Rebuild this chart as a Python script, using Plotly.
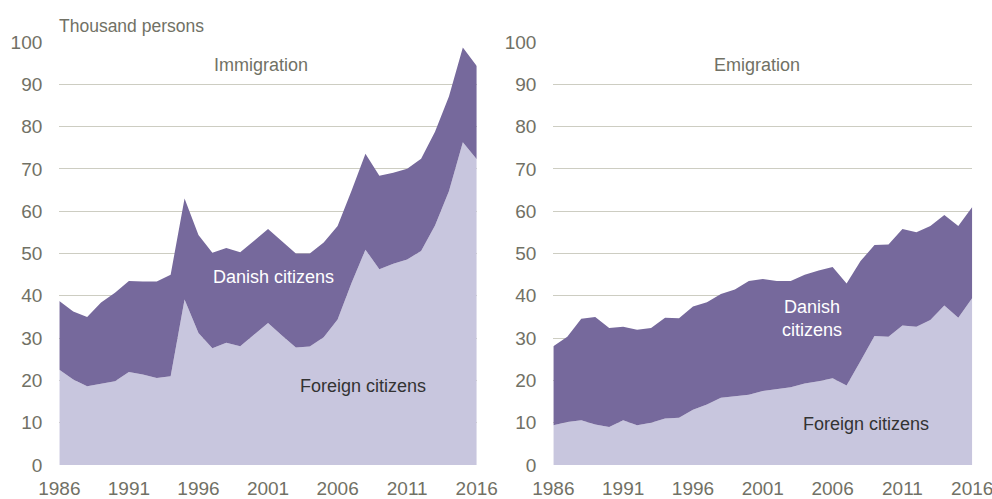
import plotly.graph_objects as go

years = list(range(1986, 2017))

# Immigration, thousand persons
imm_foreign = [22.5, 20.2, 18.6, 19.2, 19.8, 22.0, 21.4, 20.6, 21.0, 39.1,
               31.2, 27.6, 28.9, 28.1, 30.8, 33.6, 30.6, 27.8, 28.0, 30.2,
               34.4, 43.0, 50.9, 46.3, 47.6, 48.6, 50.6, 56.6, 64.7, 76.3, 72.3]
imm_total = [38.8, 36.3, 35.0, 38.4, 40.7, 43.5, 43.4, 43.4, 45.0, 63.0,
             54.4, 50.2, 51.3, 50.3, 53.0, 55.8, 52.9, 50.0, 50.0, 52.6,
             56.5, 64.8, 73.6, 68.4, 69.1, 70.0, 72.4, 78.8, 87.1, 98.7, 94.3]

# Emigration, thousand persons
emi_foreign = [9.4, 10.2, 10.6, 9.6, 9.0, 10.6, 9.4, 10.0, 11.0, 11.2,
               13.1, 14.3, 15.9, 16.3, 16.6, 17.5, 17.9, 18.4, 19.3, 19.8,
               20.5, 18.8, 24.6, 30.5, 30.3, 33.0, 32.7, 34.3, 37.7, 34.8, 39.5]
emi_total = [28.1, 30.3, 34.6, 35.0, 32.4, 32.7, 32.0, 32.4, 34.8, 34.7,
             37.5, 38.5, 40.4, 41.5, 43.5, 44.0, 43.5, 43.5, 45.0, 46.0,
             46.8, 42.9, 48.2, 52.0, 52.1, 55.8, 55.0, 56.5, 59.1, 56.5, 61.0]

x_ticks = [1986, 1991, 1996, 2001, 2006, 2011, 2016]
y_ticks = list(range(0, 101, 10))

LIGHT = "#c8c6de"
DARK = "#76699c"
AXIS_TXT = "#717165"
GRID = "#cdcdc2"
TICK_FONT = dict(family="Liberation Sans, Arial", size=19, color=AXIS_TXT)
TXT_FONT = "Liberation Sans, Arial"

fig = go.Figure()

for xa, ya, foreign, total in [("x", "y", imm_foreign, imm_total),
                               ("x2", "y2", emi_foreign, emi_total)]:
    fig.add_trace(go.Scatter(x=years, y=foreign, mode="lines", line=dict(width=0),
                             fill="tozeroy", fillcolor=LIGHT, xaxis=xa, yaxis=ya,
                             showlegend=False, hoverinfo="x+y"))
    fig.add_trace(go.Scatter(x=years, y=total, mode="lines", line=dict(width=0),
                             fill="tonexty", fillcolor=DARK, xaxis=xa, yaxis=ya,
                             showlegend=False, hoverinfo="x+y"))

ydom = [0.068, 0.916]
xaxis_common = dict(range=[1986, 2016], tickvals=x_ticks, showgrid=False, zeroline=False,
                    showline=False, ticks="", tickfont=TICK_FONT, automargin=False,
                    ticklabelstandoff=10, ticklabeloverflow="allow")
yaxis_common = dict(range=[0, 100], tickvals=y_ticks, showgrid=True, gridcolor=GRID,
                    gridwidth=1.3, zeroline=False, showline=False, ticks="",
                    tickfont=TICK_FONT, ticklabelstandoff=16, automargin=False)

fig.update_layout(
    width=992, height=499,
    margin=dict(l=0, r=0, t=0, b=0, autoexpand=False),
    plot_bgcolor="white", paper_bgcolor="white",
    xaxis=dict(domain=[0.0598, 0.4806], anchor="y", **xaxis_common),
    yaxis=dict(domain=ydom, anchor="x", **yaxis_common),
    xaxis2=dict(domain=[0.5578, 0.9801], anchor="y2", **xaxis_common),
    yaxis2=dict(domain=ydom, anchor="x2", **yaxis_common),
)

annots = [
    dict(text="Thousand persons", x=0.057, y=0.971, xref="paper", yref="paper",
         xanchor="left", yanchor="top", font=dict(family=TXT_FONT, size=17.5, color=AXIS_TXT)),
    dict(text="Immigration", x=2000.5, y=94.5, xref="x", yref="y",
         font=dict(family=TXT_FONT, size=18, color=AXIS_TXT)),
    dict(text="Emigration", x=2000.6, y=94.5, xref="x2", yref="y2",
         font=dict(family=TXT_FONT, size=18, color=AXIS_TXT)),
    dict(text="Danish citizens", x=2001.4, y=44.5, xref="x", yref="y",
         font=dict(family=TXT_FONT, size=18, color="white")),
    dict(text="Foreign citizens", x=2007.8, y=18.7, xref="x", yref="y",
         font=dict(family=TXT_FONT, size=18, color="#333333")),
    dict(text="Danish<br>citizens", x=2004.5, y=34.6, xref="x2", yref="y2",
         font=dict(family=TXT_FONT, size=18, color="white")),
    dict(text="Foreign citizens", x=2008.4, y=9.6, xref="x2", yref="y2",
         font=dict(family=TXT_FONT, size=18, color="#333333")),
]
for a in annots:
    a["showarrow"] = False
fig.update_layout(annotations=annots)

fig.write_html("out.html", config={"displayModeBar": False},
               post_script="document.body.style.margin='0';")
